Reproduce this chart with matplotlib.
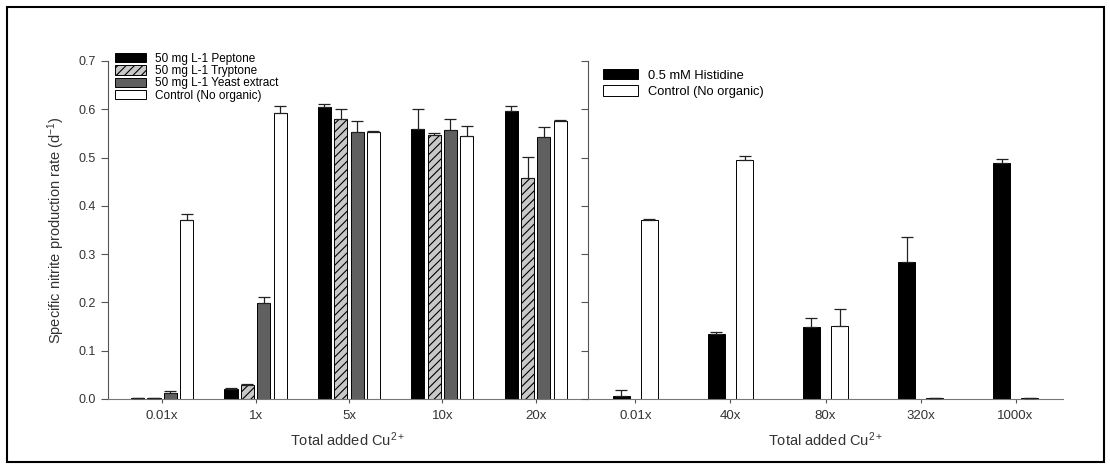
import numpy as np
import matplotlib
matplotlib.use('Agg')
import matplotlib.pyplot as plt
from matplotlib.patches import Rectangle

plt.rcParams['font.family'] = ['Liberation Sans', 'DejaVu Sans']
plt.rcParams['mathtext.default'] = 'regular'
plt.rcParams['hatch.color'] = '#333333'
plt.rcParams['hatch.linewidth'] = 0.8

# left panel: organic additions
left_cats = ['0.01x', '1x', '5x', '10x', '20x']
left_names = ['50 mg L-1 Peptone', '50 mg L-1 Tryptone', '50 mg L-1 Yeast extract', 'Control (No organic)']
peptone = [0.002, 0.021, 0.605, 0.560, 0.597]
peptone_err = [0.0005, 0.001, 0.006, 0.040, 0.010]
tryptone = [0.002, 0.030, 0.579, 0.547, 0.458]
tryptone_err = [0.0005, 0.001, 0.021, 0.004, 0.044]
yeast = [0.012, 0.198, 0.553, 0.557, 0.542]
yeast_err = [0.005, 0.013, 0.023, 0.022, 0.022]
control_l = [0.371, 0.593, 0.552, 0.544, 0.576]
control_l_err = [0.013, 0.014, 0.002, 0.021, 0.001]

# right panel: histidine
right_cats = ['0.01x', '40x', '80x', '320x', '1000x']
right_names = ['0.5 mM Histidine', 'Control (No organic)']
histidine = [0.007, 0.134, 0.150, 0.283, 0.488]
histidine_err = [0.012, 0.004, 0.018, 0.053, 0.009]
control_r = [0.371, 0.494, 0.151, 0.002, 0.002]
control_r_err = [0.001, 0.009, 0.035, 0.0005, 0.0005]

fig = plt.figure(figsize=(11.1, 4.66), dpi=100)
fig.patches.append(Rectangle((0.0065, 0.009), 0.988, 0.976, transform=fig.transFigure,
                             fill=False, edgecolor='black', linewidth=1.5))

axL = fig.add_axes([0.0973, 0.1438, 0.4324, 0.7253])
axR = fig.add_axes([0.5297, 0.1438, 0.428, 0.7253])

tc = '#333333'

def style(ax):
    for s in ['top', 'right']:
        ax.spines[s].set_visible(False)
    ax.spines['left'].set_color('#555555')
    ax.spines['bottom'].set_color('#777777')
    ax.set_ylim(0, 0.7)
    ax.tick_params(axis='y', direction='out', length=5, color='#555555', labelsize=9, labelcolor=tc)
    ax.tick_params(axis='x', direction='out', length=3, color='#555555', labelsize=9.5, labelcolor=tc, pad=5)
    ax.set_xlabel('Total added Cu$^{2+}$', fontsize=10.5, color=tc, labelpad=6)

# left panel bars
x = np.arange(len(left_cats))
w = 0.14
step = 0.175
series = [(peptone, peptone_err, 'black', None),
          (tryptone, tryptone_err, '#c8c8c8', '////'),
          (yeast, yeast_err, '#606060', None),
          (control_l, control_l_err, 'white', None)]
for i, (vals, err, col, h) in enumerate(series):
    pos = x + (i - 1.5) * step
    axL.bar(pos, vals, w, color=col, edgecolor='black', linewidth=0.7, hatch=h,
            label=left_names[i], zorder=2)
    axL.errorbar(pos, vals, yerr=[np.zeros(len(vals)), err], fmt='none', ecolor='#222222',
                 elinewidth=0.9, capsize=4, capthick=0.9, zorder=3)
axL.set_xticks(x)
axL.set_xticklabels(left_cats)
axL.set_xlim(-0.58, 4.56)
axL.set_yticks(np.arange(0, 0.71, 0.1))
axL.set_yticklabels(['%.1f' % v for v in np.arange(0, 0.71, 0.1)])
style(axL)
axL.set_ylabel('Specific nitrite production rate (d$^{-1}$)', fontsize=10.5, color=tc)
axL.yaxis.set_label_coords(-0.085, 0.5)
axL.legend(loc='upper left', bbox_to_anchor=(0.0, 1.045), frameon=False, fontsize=8.5,
           handlelength=2.6, handleheight=0.8, handletextpad=0.8, labelspacing=0.02,
           borderaxespad=0.2)

# right panel bars
xr = np.arange(len(right_cats))
wr = 0.18
for i, (vals, err, col) in enumerate([(histidine, histidine_err, 'black'),
                                      (control_r, control_r_err, 'white')]):
    pos = xr + (i - 0.5) * 0.295
    axR.bar(pos, vals, wr, color=col, edgecolor='black', linewidth=0.7,
            label=right_names[i], zorder=2)
    axR.errorbar(pos, vals, yerr=[np.zeros(len(vals)), err], fmt='none', ecolor='#222222',
                 elinewidth=0.9, capsize=4, capthick=0.9, zorder=3)
axR.set_xticks(xr)
axR.set_xticklabels(right_cats)
axR.set_xlim(-0.5, 4.5)
axR.set_yticks(np.arange(0, 0.71, 0.1))
axR.set_yticklabels([])
style(axR)
axR.legend(loc='upper left', bbox_to_anchor=(0.015, 1.0), frameon=False, fontsize=9.3,
           handlelength=2.7, handleheight=0.9, handletextpad=0.8, labelspacing=0.25,
           borderaxespad=0.2)

fig.savefig('out.png', dpi=100)
